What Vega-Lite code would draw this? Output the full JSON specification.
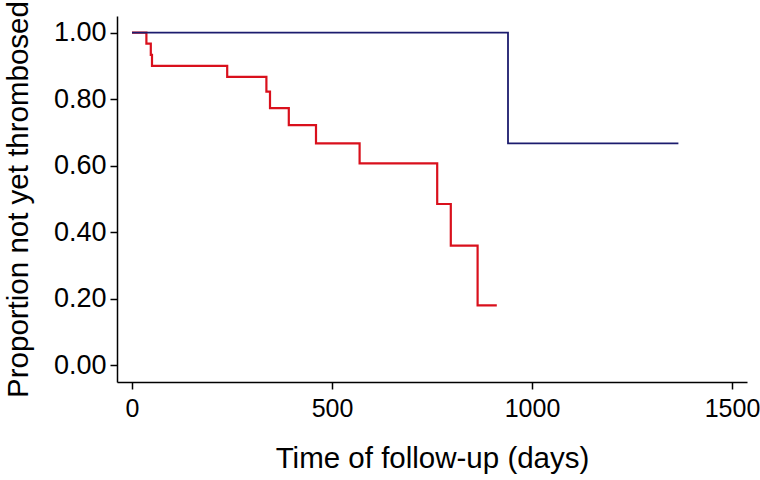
{
  "$schema": "https://vega.github.io/schema/vega-lite/v6.json",
  "autosize": {"type": "none"},
  "padding": {"left": 117, "top": 16, "right": 13, "bottom": 98},
  "width": 630,
  "height": 366,
  "background": "white",
  "config": {
    "view": {"stroke": null},
    "font": "Liberation Sans",
    "axis": {
      "grid": false,
      "domainColor": "black",
      "domainWidth": 1.5,
      "tickColor": "black",
      "tickWidth": 1.5,
      "tickSize": 7,
      "labelFont": "Liberation Sans",
      "labelFontSize": 27,
      "labelColor": "black",
      "labelPadding": 4,
      "titleFont": "Liberation Sans",
      "titleFontSize": 29.5,
      "titleFontWeight": "normal",
      "titleColor": "black"
    }
  },
  "datasets": {
    "km": [
      {"group": "A", "day": 0, "surv": 1.0},
      {"group": "A", "day": 36, "surv": 0.967},
      {"group": "A", "day": 47, "surv": 0.933},
      {"group": "A", "day": 50, "surv": 0.9},
      {"group": "A", "day": 238, "surv": 0.867},
      {"group": "A", "day": 336, "surv": 0.823},
      {"group": "A", "day": 345, "surv": 0.773},
      {"group": "A", "day": 392, "surv": 0.722},
      {"group": "A", "day": 460, "surv": 0.667},
      {"group": "A", "day": 569, "surv": 0.607},
      {"group": "A", "day": 763, "surv": 0.485},
      {"group": "A", "day": 797, "surv": 0.36},
      {"group": "A", "day": 864, "surv": 0.18},
      {"group": "A", "day": 912, "surv": 0.18},
      {"group": "B", "day": 0, "surv": 1.0},
      {"group": "B", "day": 940, "surv": 0.667},
      {"group": "B", "day": 1366, "surv": 0.667}
    ]
  },
  "data": {"name": "km"},
  "encoding": {
    "x": {
      "field": "day",
      "type": "quantitative",
      "scale": {"domain": [-37.5, 1537.5], "nice": false, "zero": false},
      "axis": {"values": [0, 500, 1000, 1500], "format": "d", "labelFontSize": 25, "labelPadding": 7, "title": "Time of follow-up (days)", "titlePadding": 23}
    },
    "y": {
      "field": "surv",
      "type": "quantitative",
      "scale": {"domain": [-0.05, 1.05], "nice": false, "zero": false},
      "axis": {"values": [0, 0.2, 0.4, 0.6, 0.8, 1.0], "format": ".2f", "title": "Proportion not yet thrombosed", "titlePadding": 20}
    }
  },
  "layer": [
    {
      "transform": [{"filter": "datum.group === 'A'"}],
      "mark": {"type": "line", "interpolate": "step-after", "color": "#d9101c", "strokeWidth": 2.2}
    },
    {
      "transform": [{"filter": "datum.group === 'B'"}],
      "mark": {"type": "line", "interpolate": "step-after", "color": "#1c1c6e", "strokeWidth": 1.8}
    }
  ]
}
